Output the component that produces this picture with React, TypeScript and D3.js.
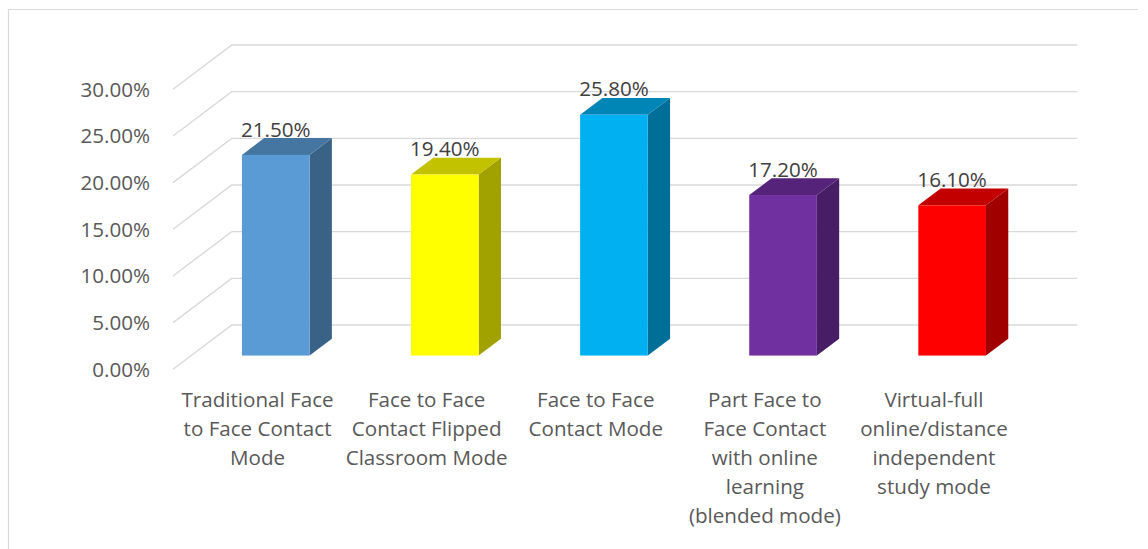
import React from "react";
import * as d3 from "d3";

// Teaching-mode preference shares
const categories: string[] = [
  "Traditional Face to Face Contact Mode",
  "Face to Face Contact Flipped Classroom Mode",
  "Face to Face Contact Mode",
  "Part Face to Face Contact with online learning (blended mode)",
  "Virtual-full online/distance independent study mode",
];
const categoryLines: string[][] = [
  ["Traditional Face", "to Face Contact", "Mode"],
  ["Face to Face", "Contact Flipped", "Classroom Mode"],
  ["Face to Face", "Contact Mode"],
  ["Part Face to", "Face Contact", "with online", "learning", "(blended mode)"],
  ["Virtual-full", "online/distance", "independent", "study mode"],
];
const shares: number[] = [0.215, 0.194, 0.258, 0.172, 0.161];
const barColors: string[] = ["#5B9BD5", "#FFFF00", "#00B0F0", "#7030A0", "#FF0000"];
const yTicks: number[] = [0, 0.05, 0.1, 0.15, 0.2, 0.25, 0.3];

const W = 1148;
const H = 549;

// Oblique projection of the 3D plot box
const X0 = 173; // front-left edge of the floor
const PLOT_W = 845.5; // width of the category axis
const DX = 58.7; // horizontal shift from front to back wall
const DY = 44.3; // vertical shift from front to back wall
const Z_FRONT = 0.31;
const Z_BACK = 0.69;

const shade = (c: string, k: number) => {
  const rgb = d3.rgb(c);
  return d3.rgb(rgb.r * k, rgb.g * k, rgb.b * k).formatHex();
};

export default function App() {
  const y = d3.scaleLinear().domain([0, 0.3]).range([369.3, 89.3]);
  const x = d3
    .scaleBand<string>()
    .domain(categories)
    .range([0, PLOT_W])
    .paddingInner(0.6)
    .paddingOuter(0.3);

  const proj = (px: number, v: number, z: number): [number, number] => [
    X0 + px + z * DX,
    y(v) - z * DY,
  ];

  const pct = d3.format(".2%");
  const gridColor = "#D9D9D9";
  const font = "'Open Sans', sans-serif";

  return (
    <svg
      width={W}
      height={H}
      style={{ position: "absolute", left: 0, top: 0, background: "#fff" }}
    >
      {/* chart frame */}
      <line x1={8.5} y1={9.5} x2={1138} y2={9.5} stroke={gridColor} strokeWidth={1.2} />
      <line x1={8.5} y1={9.5} x2={8.5} y2={H} stroke={gridColor} strokeWidth={1.2} />

      {/* gridlines: side wall diagonals + back wall horizontals */}
      {yTicks.map((t) => {
        const a = proj(0, t, 0);
        const b = proj(0, t, 1);
        const c = proj(PLOT_W, t, 1);
        return (
          <polyline
            key={t}
            points={`${a[0]},${a[1]} ${b[0]},${b[1]} ${c[0]},${c[1]}`}
            fill="none"
            stroke={gridColor}
            strokeWidth={1.4}
          />
        );
      })}

      {/* value axis labels */}
      {yTicks.map((t) => (
        <text
          key={"yl" + t}
          x={150}
          y={y(t) + 7.5}
          textAnchor="end"
          fontFamily={font}
          fontSize={20.6}
          fill="#595959"
        >
          {pct(t)}
        </text>
      ))}

      {/* 3D columns */}
      {categories.map((cat, i) => {
        const v = shares[i];
        const col = barColors[i];
        const x0 = x(cat)!;
        const x1 = x0 + x.bandwidth();
        const fTL = proj(x0, v, Z_FRONT);
        const fTR = proj(x1, v, Z_FRONT);
        const fBR = proj(x1, 0, Z_FRONT);
        const bTL = proj(x0, v, Z_BACK);
        const bTR = proj(x1, v, Z_BACK);
        const bBR = proj(x1, 0, Z_BACK);
        const pts = (p: [number, number][]) => p.map((q) => q.join(",")).join(" ");
        return (
          <g key={cat}>
            <polygon points={pts([fTR, bTR, bBR, fBR])} fill={shade(col, 0.63)} />
            <polygon points={pts([fTL, bTL, bTR, fTR])} fill={shade(col, 0.76)} />
            <rect
              x={fTL[0]}
              y={fTL[1]}
              width={fTR[0] - fTL[0]}
              height={fBR[1] - fTR[1]}
              fill={col}
            />
            <text
              x={(fTL[0] + fTR[0]) / 2}
              y={bTL[1] - 1.5}
              textAnchor="middle"
              fontFamily={font}
              fontSize={20.6}
              fill="#404040"
            >
              {pct(v)}
            </text>
          </g>
        );
      })}

      {/* category labels */}
      {categories.map((cat, i) => {
        const cx = X0 + x(cat)! + x.bandwidth() / 2;
        return (
          <text
            key={"cl" + i}
            textAnchor="middle"
            fontFamily={font}
            fontSize={20.6}
            fill="#595959"
          >
            {categoryLines[i].map((ln, j) => (
              <tspan key={j} x={cx} y={406.7 + j * 29.1}>
                {ln}
              </tspan>
            ))}
          </text>
        );
      })}
    </svg>
  );
}
